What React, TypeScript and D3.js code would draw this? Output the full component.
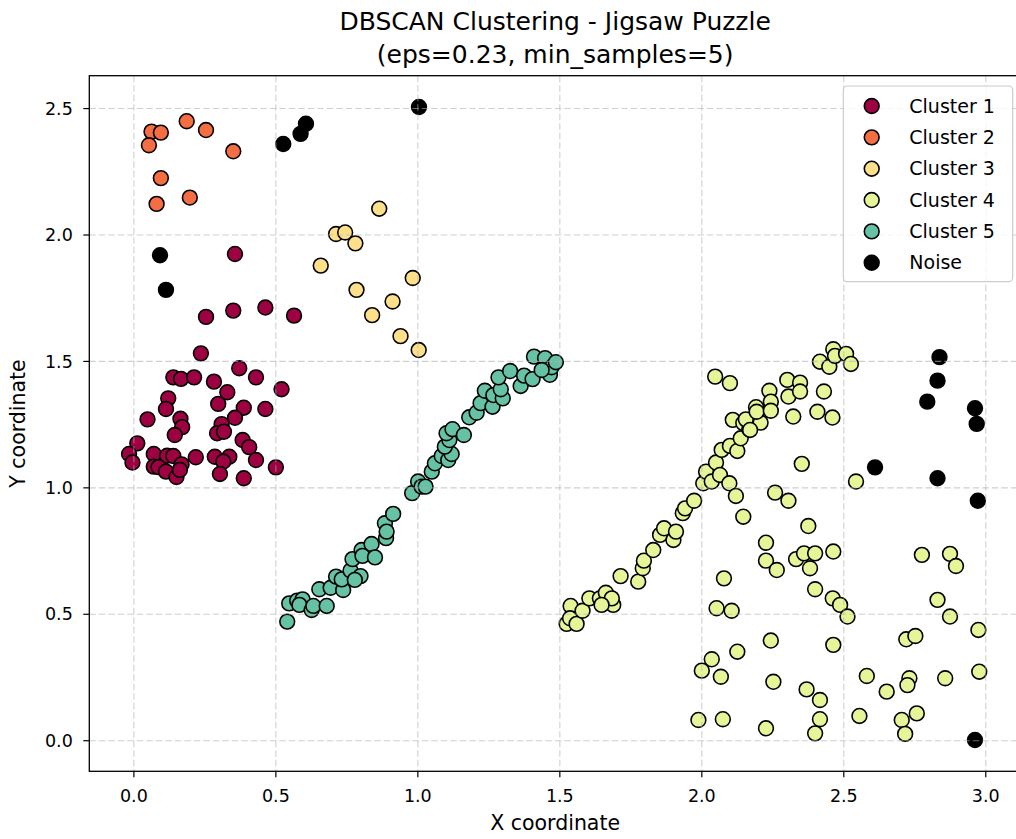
import React from "react";
import * as d3 from "d3";

const cluster1: [number, number][] = [
  [0.356, 1.925], [0.254, 1.676], [0.35, 1.701], [0.463, 1.713], [0.564, 1.681], [0.236, 1.532],
  [0.371, 1.473], [0.43, 1.437], [0.139, 1.437], [0.166, 1.431], [0.212, 1.437], [0.282, 1.42],
  [0.52, 1.39], [0.329, 1.378], [0.121, 1.354], [0.297, 1.332], [0.113, 1.312], [0.387, 1.317],
  [0.463, 1.312], [0.048, 1.271], [0.164, 1.273], [0.356, 1.277], [0.17, 1.24], [0.309, 1.252],
  [0.144, 1.209], [0.293, 1.216], [0.317, 1.222], [0.383, 1.189], [0.406, 1.161], [0.012, 1.176],
  [-0.017, 1.134], [-0.005, 1.1], [0.07, 1.134], [0.117, 1.127], [0.139, 1.126], [0.07, 1.084],
  [0.087, 1.082], [0.113, 1.064], [0.15, 1.043], [0.168, 1.093], [0.162, 1.071], [0.218, 1.121],
  [0.285, 1.123], [0.336, 1.123], [0.315, 1.104], [0.303, 1.055], [0.43, 1.11], [0.387, 1.038],
  [0.5, 1.081],
];

const cluster2: [number, number][] = [
  [0.062, 2.409], [0.095, 2.405], [0.053, 2.355], [0.186, 2.45], [0.254, 2.415], [0.35, 2.331],
  [0.095, 2.225], [0.197, 2.148], [0.08, 2.123],
];

const cluster3: [number, number][] = [
  [0.864, 2.104], [0.712, 2.004], [0.744, 2.01], [0.78, 1.967], [0.658, 1.879], [0.982, 1.83],
  [0.784, 1.783], [0.911, 1.737], [0.839, 1.683], [0.939, 1.6], [1.003, 1.545],
];

const cluster4: [number, number][] = [
  [1.524, 0.462], [1.538, 0.533], [1.536, 0.484], [1.559, 0.462], [1.58, 0.514], [1.604, 0.563],
  [1.641, 0.563], [1.662, 0.585], [1.688, 0.537], [1.683, 0.563], [1.647, 0.537], [1.714, 0.651],
  [1.776, 0.629], [1.792, 0.682], [1.796, 0.712], [1.829, 0.754], [1.853, 0.814], [1.867, 0.84],
  [1.9, 0.794], [1.909, 0.827], [1.933, 0.9], [1.941, 0.919], [1.973, 0.949], [2.005, 1.018],
  [2.015, 1.064], [2.05, 1.1], [2.035, 1.025], [2.064, 1.051], [2.097, 1.018], [2.12, 0.968],
  [2.146, 0.886], [2.07, 1.15], [2.099, 1.166], [2.125, 1.146], [2.137, 1.196], [2.109, 1.269],
  [2.146, 1.256], [2.167, 1.232], [2.155, 1.271], [2.207, 1.258], [2.191, 1.319], [2.193, 1.301],
  [2.238, 1.384], [2.243, 1.341], [2.243, 1.305], [2.047, 1.44], [2.099, 1.414], [2.301, 1.427],
  [2.346, 1.416], [2.305, 1.361], [2.346, 1.381], [2.322, 1.282], [2.352, 1.095], [2.258, 0.981],
  [2.305, 0.949], [2.375, 0.849], [2.226, 0.783], [2.226, 0.712], [2.264, 0.675], [2.332, 0.718],
  [2.36, 0.741], [2.381, 0.682], [2.399, 0.599], [2.078, 0.642], [2.052, 0.524], [2.105, 0.514],
  [2.243, 0.396], [2.416, 1.499], [2.449, 1.479], [2.463, 1.548], [2.469, 1.522], [2.508, 1.53],
  [2.525, 1.49], [2.43, 1.381], [2.407, 1.301], [2.46, 1.278], [2.543, 1.025], [2.399, 0.741],
  [2.463, 0.748], [2.461, 0.563], [2.487, 0.537], [2.513, 0.491], [2.463, 0.379], [2.035, 0.322],
  [2.0, 0.277], [2.067, 0.253], [2.125, 0.352], [2.252, 0.233], [2.369, 0.203], [2.416, 0.161],
  [2.416, 0.085], [2.399, 0.029], [1.988, 0.082], [2.074, 0.085], [2.226, 0.049], [2.555, 0.098],
  [2.581, 0.256], [2.651, 0.194], [2.704, 0.082], [2.757, 0.108], [2.716, 0.027], [2.731, 0.247],
  [2.724, 0.22], [2.72, 0.401], [2.752, 0.414], [2.857, 0.247], [2.977, 0.273], [2.974, 0.438],
  [2.874, 0.491], [2.83, 0.557], [2.775, 0.735], [2.874, 0.739], [2.895, 0.691], [2.17, 1.229],
];

const cluster5: [number, number][] = [
  [0.54, 0.471], [0.547, 0.543], [0.575, 0.554], [0.594, 0.559], [0.583, 0.537], [0.626, 0.517],
  [0.632, 0.533], [0.679, 0.533], [0.653, 0.599], [0.693, 0.605], [0.737, 0.596], [0.712, 0.649],
  [0.732, 0.638], [0.763, 0.673], [0.798, 0.651], [0.778, 0.636], [0.77, 0.718], [0.802, 0.754],
  [0.805, 0.731], [0.837, 0.778], [0.849, 0.725], [0.884, 0.86], [0.888, 0.801], [0.89, 0.827],
  [0.913, 0.897], [0.98, 0.979], [1.001, 1.025], [1.013, 1.005], [1.027, 1.005], [1.049, 1.064],
  [1.06, 1.097], [1.084, 1.126], [1.107, 1.11], [1.119, 1.134], [1.095, 1.163], [1.111, 1.189],
  [1.101, 1.216], [1.122, 1.232], [1.162, 1.209], [1.181, 1.279], [1.207, 1.297], [1.221, 1.335],
  [1.236, 1.384], [1.263, 1.321], [1.266, 1.367], [1.299, 1.354], [1.292, 1.39], [1.284, 1.437],
  [1.325, 1.462], [1.362, 1.403], [1.374, 1.444], [1.404, 1.43], [1.409, 1.519], [1.448, 1.513],
  [1.465, 1.447], [1.471, 1.477], [1.486, 1.497], [1.436, 1.466],
];

const noise: [number, number][] = [
  [0.526, 2.36], [0.587, 2.4], [0.606, 2.44], [1.004, 2.506], [0.092, 1.92], [0.113, 1.783],
  [2.837, 1.517], [2.83, 1.424], [2.794, 1.341], [2.962, 1.315], [2.968, 1.253], [2.61, 1.081],
  [2.83, 1.038], [2.972, 0.949], [2.962, 0.003],
];

const seriesNames = ["Cluster 1", "Cluster 2", "Cluster 3", "Cluster 4", "Cluster 5", "Noise"];
const seriesData = [cluster1, cluster2, cluster3, cluster4, cluster5, noise];
const seriesColors = ["#9e0142", "#f46d43", "#fee08b", "#e6f598", "#66c2a5", "#000000"];
const xTicks = [0, 0.5, 1.0, 1.5, 2.0, 2.5, 3.0];
const yTicks = [0, 0.5, 1.0, 1.5, 2.0, 2.5];

const W = 1016;
const H = 839;
const FONT = "DejaVu Sans, sans-serif";

export default function App() {
  const left = 89.3, right = 1021, top = 75.7, bottom = 771.3;
  const x = d3.scaleLinear().domain([-0.157, 3.124]).range([left, right]);
  const y = d3.scaleLinear().domain([-0.121, 2.63]).range([bottom, top]);
  const r = 7.4;

  const legX = 843.3, legY = 86, legW = 169.4, legH = 195.7;
  const legRowY = (i: number) => 106 + i * 31.35;

  return (
    <svg width={W} height={H} style={{ position: "absolute", left: 0, top: 0, background: "#fff" }} fontFamily={FONT}>
      <rect x={0} y={0} width={W} height={H} fill="#fff" />
      <text x={(left + right) / 2} y={29.5} textAnchor="middle" fontSize={25} fill="#000">DBSCAN Clustering - Jigsaw Puzzle</text>
      <text x={(left + right) / 2} y={63} textAnchor="middle" fontSize={25} fill="#000">(eps=0.23, min_samples=5)</text>

      <clipPath id="plotclip">
        <rect x={left} y={top} width={right - left} height={bottom - top} />
      </clipPath>

      <g clipPath="url(#plotclip)">
        {seriesData.map((data, si) => (
          <g key={si}>
            {data.map((d, i) => (
              <circle key={i} cx={x(d[0])} cy={y(d[1])} r={r} fill={seriesColors[si]} stroke="#000" strokeWidth={1.6} />
            ))}
          </g>
        ))}
        {xTicks.map((t) => (
          <line key={"gx" + t} x1={x(t)} x2={x(t)} y1={top} y2={bottom} stroke="#b0b0b0" strokeOpacity={0.6} strokeWidth={1.1} strokeDasharray="6.5,3" />
        ))}
        {yTicks.map((t) => (
          <line key={"gy" + t} x1={left} x2={right} y1={y(t)} y2={y(t)} stroke="#b0b0b0" strokeOpacity={0.6} strokeWidth={1.1} strokeDasharray="6.5,3" />
        ))}
      </g>

      <rect x={left} y={top} width={right - left} height={bottom - top} fill="none" stroke="#000" strokeWidth={1.3} />

      {xTicks.map((t) => (
        <g key={"tx" + t}>
          <line x1={x(t)} x2={x(t)} y1={bottom} y2={bottom + 6} stroke="#000" strokeWidth={1.2} />
          <text x={x(t)} y={bottom + 31} textAnchor="middle" fontSize={17.5} fill="#000">{t.toFixed(1)}</text>
        </g>
      ))}
      {yTicks.map((t) => (
        <g key={"ty" + t}>
          <line x1={left - 6} x2={left} y1={y(t)} y2={y(t)} stroke="#000" strokeWidth={1.2} />
          <text x={left - 16.5} y={y(t)} dy="0.35em" textAnchor="end" fontSize={17.5} fill="#000">{t.toFixed(1)}</text>
        </g>
      ))}

      <text x={(left + right) / 2} y={830} textAnchor="middle" fontSize={20.5} fill="#000">X coordinate</text>
      <text transform={`translate(25,${(top + bottom) / 2}) rotate(-90)`} textAnchor="middle" fontSize={20.5} fill="#000">Y coordinate</text>

      <g>
        <rect x={legX} y={legY} width={legW} height={legH} rx={4} ry={4} fill="#fff" fillOpacity={0.8} stroke="#cccccc" strokeWidth={1.2} />
        {seriesNames.map((name, i) => (
          <g key={name}>
            <circle cx={871.7} cy={legRowY(i)} r={r} fill={seriesColors[i]} stroke="#000" strokeWidth={1.6} />
            <text x={909.3} y={legRowY(i)} dy="0.35em" fontSize={19} fill="#000">{name}</text>
          </g>
        ))}
      </g>
    </svg>
  );
}
